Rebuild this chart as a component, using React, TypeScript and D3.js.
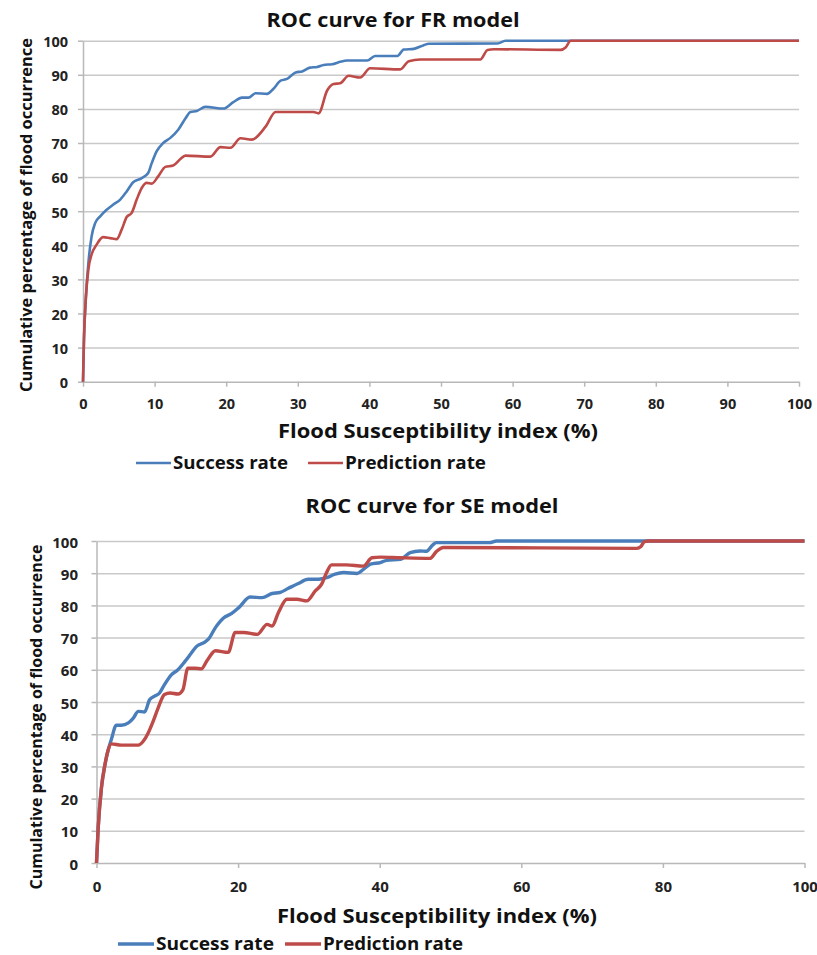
import React, { useEffect, useRef } from "react";
import * as d3 from "d3";

// [susceptibility index %, cumulative % of flood occurrence]
const frSuccess: [number, number][] = [
  [0, 0], [0.14, 12.7], [0.4, 24.6], [0.75, 34.8], [1.2, 42.6], [1.7, 46.5], [2.4, 48.5],
  [3.3, 50.4], [4.2, 51.9], [5.2, 53.4], [6.1, 55.8], [7.0, 58.5], [8.2, 59.7], [9.1, 61.2],
  [9.6, 64.1], [10.3, 67.6], [11.2, 70], [12.2, 71.5], [13.3, 73.9], [14.3, 77.2], [15.0, 79.1],
  [15.9, 79.4], [17.1, 80.6], [19.6, 80.1], [21.0, 82], [22.2, 83.3], [23.1, 83.3], [24.1, 84.6],
  [25.7, 84.4], [26.6, 85.9], [27.6, 88.3], [28.5, 88.8], [29.7, 90.7], [30.6, 91], [31.7, 92.1],
  [32.7, 92.3], [33.6, 92.9], [34.8, 93.1], [35.9, 93.8], [36.9, 94.2], [39.7, 94.2], [40.8, 95.5],
  [43.9, 95.5], [44.8, 97.4], [46.2, 97.6], [47.6, 98.7], [48.3, 99.1], [57.9, 99.2], [59.0, 100],
  [100, 100]
];
const frPrediction: [number, number][] = [
  [0, 0], [0.14, 12.7], [0.4, 24.6], [0.75, 32.9], [1.2, 37.3], [1.9, 40.2], [2.8, 42.4],
  [3.8, 42.1], [4.7, 41.8], [5.4, 44.6], [6.1, 48.3], [6.8, 49.5], [7.5, 53.4], [8.2, 56.8],
  [8.9, 58.3], [9.6, 58.1], [10.5, 60.2], [11.5, 63], [12.6, 63.4], [13.6, 65.3], [14.3, 66.3],
  [17.8, 66], [19.2, 68.8], [20.6, 68.6], [22.0, 71.4], [23.6, 71], [25.5, 74.8], [26.9, 79.1],
  [32.2, 79.1], [32.9, 78.7], [34.1, 85.4], [35.0, 87.3], [35.9, 87.5], [37.1, 89.7], [38.7, 89.2],
  [40.1, 91.9], [44.3, 91.6], [45.5, 94], [47.1, 94.5], [55.5, 94.5], [56.5, 97.3], [57.4, 97.5],
  [66.7, 97.3], [67.4, 98], [68.1, 100], [100, 100]
];
const seSuccess: [number, number][] = [
  [0, 0], [0.24, 11], [0.7, 23.4], [1.2, 30.6], [1.6, 34.7], [2.1, 38.4], [2.8, 42.8], [3.5, 42.8],
  [4.5, 43.5], [5.2, 45], [5.9, 47.1], [6.8, 46.9], [7.5, 50.7], [8.2, 51.8], [8.9, 52.8],
  [9.6, 55.4], [10.6, 58.5], [11.5, 60], [12.5, 62.6], [13.4, 65.2], [14.1, 67.2], [15.3, 68.6],
  [15.8, 69.5], [16.8, 73.1], [17.9, 76], [19.1, 77.5], [20.1, 79.3], [21.7, 82.6], [23.4, 82.4],
  [24.8, 83.7], [25.9, 84], [27.1, 85.3], [28.5, 86.8], [29.9, 88.1], [31.4, 88.1], [32.5, 88.6],
  [33.7, 89.7], [34.9, 90.2], [36.8, 89.9], [37.7, 91.2], [38.7, 92.8], [40.1, 93.3], [41.0, 94],
  [42.9, 94.3], [44.3, 96.4], [45.7, 96.9], [46.6, 96.8], [47.5, 98.8], [48.0, 99.5], [55.5, 99.5],
  [56.5, 100], [100, 100]
];
const sePrediction: [number, number][] = [
  [0, 0], [0.24, 11], [0.7, 23.4], [1.2, 30.6], [1.6, 34.7], [2.1, 37], [3.5, 36.6], [5.9, 36.6],
  [6.6, 37.8], [7.3, 40.4], [8.0, 44], [8.7, 48.1], [9.6, 52.3], [10.4, 52.8], [11.5, 52.5],
  [12.2, 53.8], [12.9, 60.5], [13.9, 60.5], [14.8, 60.3], [15.6, 62.8], [16.8, 65.9], [18.6, 65.4],
  [19.6, 71.6], [20.8, 71.6], [22.7, 71], [24.1, 74.1], [24.8, 73.6], [25.7, 77.8], [26.9, 81.9],
  [28.3, 81.9], [29.7, 81.4], [30.9, 84.5], [31.8, 86.6], [32.5, 90.2], [33.2, 92.6], [35.3, 92.6],
  [37.7, 92.2], [38.9, 94.8], [40.1, 95], [42.9, 94.8], [47.1, 94.6], [48.0, 96.7], [49.0, 98],
  [76.3, 97.7], [76.9, 98.3], [77.4, 99.8], [78.0, 100], [100, 100]
];

const yTicks = [0, 10, 20, 30, 40, 50, 60, 70, 80, 90, 100];
const frXTicks = [0, 10, 20, 30, 40, 50, 60, 70, 80, 90, 100];
const seXTicks = [0, 20, 40, 60, 80, 100];
const seriesNames = ["Success rate", "Prediction rate"];
const seriesColors = ["#4a7ebb", "#be4b48"];

const FONT = "'Open Sans', 'DejaVu Sans', sans-serif";

function label(g: any, txt: string, size: number, len: number) {
  return g
    .append("text")
    .style("font-family", FONT)
    .style("font-weight", "bold")
    .style("font-size", size + "px")
    .attr("fill", "#111")
    .attr("textLength", len)
    .attr("lengthAdjust", "spacingAndGlyphs")
    .text(txt);
}

function drawChart(svg: any, o: any) {
  const x = d3.scaleLinear().domain([0, 100]).range([o.x0, o.x1]);
  const y = d3.scaleLinear().domain([0, 100]).range([o.y0, o.y1]);
  const g = svg.append("g");

  // grid
  const grid = g
    .append("g")
    .attr("transform", `translate(${o.x0},0)`)
    .call(d3.axisLeft(y).tickValues(yTicks.slice(1)).tickSize(-(o.x1 - o.x0)).tickFormat(() => ""));
  grid.select(".domain").remove();
  grid.selectAll("line").attr("stroke", "#c9c9c9").attr("stroke-width", 1.5);

  // y axis
  const ya = g
    .append("g")
    .attr("transform", `translate(${o.x0},0)`)
    .call(d3.axisLeft(y).tickValues(yTicks).tickSize(5).tickSizeOuter(0));
  ya.select(".domain").attr("stroke", "#b8b8b8").attr("stroke-width", 1.5);
  ya.selectAll("line").attr("stroke", "#b8b8b8").attr("stroke-width", 1.5);
  ya.selectAll("text")
    .attr("x", -o.yLabelGap)
    .attr("dy", "0.4em")
    .attr("fill", "#222")
    .style("font-family", FONT)
    .style("font-weight", "bold")
    .style("font-size", o.tickFont + "px");

  // x axis
  const xa = g
    .append("g")
    .attr("transform", `translate(0,${o.y0})`)
    .call(d3.axisBottom(x).tickValues(o.xTicks).tickSize(5).tickSizeOuter(0));
  xa.select(".domain").attr("stroke", "#b8b8b8").attr("stroke-width", 1.5);
  xa.selectAll("line").attr("stroke", "#b8b8b8").attr("stroke-width", 1.5);
  xa.selectAll("text")
    .attr("y", o.xLabelGap)
    .attr("dy", "0")
    .attr("fill", "#222")
    .style("font-family", FONT)
    .style("font-weight", "bold")
    .style("font-size", o.tickFont + "px");

  const line = d3
    .line<[number, number]>()
    .x((d) => x(d[0]))
    .y((d) => y(d[1]))
    .curve(d3.curveMonotoneX);

  o.series.forEach((s: [number, number][], i: number) => {
    g.append("path")
      .datum(s)
      .attr("fill", "none")
      .attr("stroke", seriesColors[i])
      .attr("stroke-width", o.lineWidth)
      .attr("stroke-linejoin", "round")
      .attr("d", line);
  });

  // titles
  label(g, o.title, 20, 253)
    .attr("x", o.titleX - 126.5)
    .attr("y", o.titleY);

  label(g, "Cumulative percentage of flood occurrence", 16.5, o.yTitleLen)
    .attr("transform", `translate(${o.yTitleX},${o.yTitleY + o.yTitleLen / 2}) rotate(-90)`);

  label(g, "Flood Susceptibility index (%)", 19, 320)
    .attr("x", o.xTitleX - 160)
    .attr("y", o.xTitleY);

  // legend
  seriesNames.forEach((name, i) => {
    const lx = o.legendX[i];
    g.append("line")
      .attr("x1", lx)
      .attr("x2", lx + o.legendLine)
      .attr("y1", o.legendY - 6)
      .attr("y2", o.legendY - 6)
      .attr("stroke", seriesColors[i])
      .attr("stroke-width", o.lineWidth);
    label(g, name, 17, o.legendLen[i])
      .attr("x", lx + o.legendLine + 2)
      .attr("y", o.legendY);
  });
}

export default function App() {
  const ref = useRef<SVGSVGElement>(null);

  useEffect(() => {
    const svg = d3.select(ref.current);
    svg.selectAll("*").remove();
    drawChart(svg, {
      x0: 83, x1: 799, y0: 381.7, y1: 40.7,
      xTicks: frXTicks, series: [frSuccess, frPrediction],
      title: "ROC curve for FR model", titleX: 393, titleY: 27,
      yTitleX: 32, yTitleY: 215, yTitleLen: 354, xTitleX: 438, xTitleY: 438,
      yLabelGap: 15, xLabelGap: 27, tickFont: 14.5, lineWidth: 2.6,
      legendX: [136, 308], legendLine: 35, legendY: 469, legendLen: [115, 141]
    });
    drawChart(svg, {
      x0: 96.5, x1: 804.5, y0: 863, y1: 541,
      xTicks: seXTicks, series: [seSuccess, sePrediction],
      title: "ROC curve for SE model", titleX: 432, titleY: 513,
      yTitleX: 42, yTitleY: 717, yTitleLen: 345, xTitleX: 437, xTitleY: 923,
      yLabelGap: 18.5, xLabelGap: 29, tickFont: 15, lineWidth: 3.4,
      legendX: [118, 285], legendLine: 36, legendY: 950, legendLen: [118, 140]
    });
  }, []);

  return (
    <svg
      ref={ref}
      width={817}
      height={955}
      style={{ position: "absolute", left: 0, top: 0, background: "#fff" }}
    />
  );
}
